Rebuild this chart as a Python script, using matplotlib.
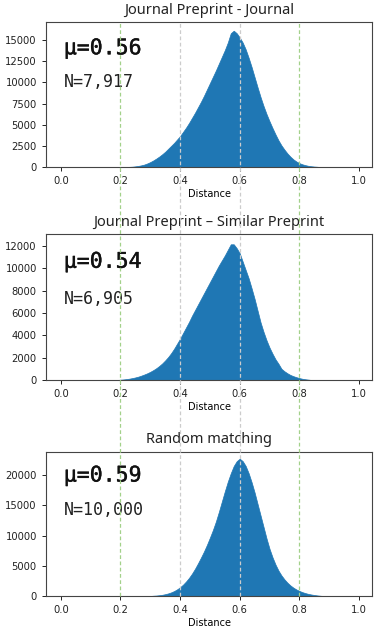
import numpy as np
import matplotlib
matplotlib.use('Agg')
import matplotlib.pyplot as plt
import matplotlib.patheffects as pe
from matplotlib.lines import Line2D
from matplotlib.transforms import blended_transform_factory

# histogram heights, one every 0.01 starting at the given x
step = 0.01

start_journal = 0.22
h_journal = [0, 20, 40, 80, 130, 200, 290, 420, 580, 770,
             990, 1230, 1500, 1800, 2150, 2500, 2850, 3250, 3650, 4150,
             4650, 5200, 5800, 6400, 7050, 7700, 8400, 9150, 9900, 10650,
             11400, 12200, 13000, 13800, 14700, 15800, 16100, 15800, 15300, 14700,
             13900, 12900, 11800, 10600, 9400, 8250, 7200, 6250, 5400, 4600,
             3850, 3150, 2550, 2050, 1600, 1220, 900, 650, 460, 320,
             220, 140, 90, 55, 30, 0]

start_similar = 0.19
h_similar = [0, 30, 50, 80, 120, 170, 230, 300, 390, 490,
             600, 730, 880, 1050, 1250, 1480, 1750, 2050, 2400, 2800,
             3250, 3700, 4200, 4700, 5200, 5750, 6250, 6750, 7250, 7750,
             8250, 8750, 9250, 9750, 10250, 10700, 11150, 11650, 12150, 12150,
             11800, 11350, 10600, 9850, 9100, 8200, 7250, 6200, 5150, 4300,
             3550, 2900, 2350, 1850, 1450, 1000, 780, 600, 450, 340,
             250, 170, 110, 65, 35, 0]

start_random = 0.30
h_random = [0, 50, 80, 130, 200, 300, 430, 600, 820, 1100,
            1450, 1880, 2400, 3000, 3700, 4500, 5400, 6350, 7350, 8450,
            9650, 10900, 12300, 13900, 15600, 17300, 18900, 20300, 21500, 22300,
            22700, 22300, 21500, 20300, 18800, 17100, 15200, 13300, 11400, 9500,
            7800, 6400, 5200, 4200, 3400, 2750, 2200, 1750, 1380, 1080,
            840, 640, 480, 350, 250, 170, 100, 50, 0]

titles = ['Journal Preprint - Journal', 'Journal Preprint \u2013 Similar Preprint', 'Random matching']
means = ['\u03bc=0.56', '\u03bc=0.54', '\u03bc=0.59']
counts = ['N=7,917', 'N=6,905', 'N=10,000']
ytops = [17100, 13070, 23850]
mu_y = [0.82, 0.81, 0.835]
n_y = [0.59, 0.555, 0.595]

fig = plt.figure(figsize=(3.82, 6.35), dpi=100)
boxes = [[0.12, 0.737, 0.855, 0.228],
         [0.12, 0.4016, 0.855, 0.2299],
         [0.12, 0.0614, 0.855, 0.2272]]

data = [(start_journal, h_journal), (start_similar, h_similar), (start_random, h_random)]
axes = []
for i, (x0, hs) in enumerate(data):
    ax = fig.add_axes(boxes[i])
    xs = x0 + step * np.arange(len(hs))
    ax.fill_between(xs, 0, hs, color='#1f77b4', lw=0.5, edgecolor='#1f77b4')
    ax.set_xlim(-0.05, 1.045)
    ax.set_ylim(0, ytops[i])
    ax.set_xticks([0.0, 0.2, 0.4, 0.6, 0.8, 1.0])
    ax.tick_params(labelsize=7.2, length=3, width=0.7, colors='#222')
    for s in ax.spines.values():
        s.set_color('#444')
        s.set_linewidth(0.8)
    ax.set_xlabel('Distance', fontsize=7, labelpad=2)
    ax.set_title(titles[i], fontsize=10.5, family='Noto Sans', color='#222', pad=6)
    ax.text(0.055, mu_y[i], means[i], transform=ax.transAxes, va='center',
            family='DejaVu Sans Mono', fontsize=15.5, color='#111',
            path_effects=[pe.withStroke(linewidth=0.3, foreground='#111')])
    ax.text(0.055, n_y[i], counts[i], transform=ax.transAxes, va='center',
            family='DejaVu Sans Mono', fontsize=12, color='#222')
    axes.append(ax)

# guide lines running across all three panels
tr = blended_transform_factory(axes[2].transData, fig.transFigure)
top = boxes[0][1] + boxes[0][3]
bottom = boxes[2][1]
for xv, col in [(0.2, '#a3d18a'), (0.4, '#cccccc'), (0.6, '#cccccc'), (0.8, '#a3d18a')]:
    fig.add_artist(Line2D([xv, xv], [bottom, top], transform=tr, color=col,
                          lw=0.9, ls=(0, (3, 2)), zorder=5))

plt.savefig('out.png', dpi=100)
